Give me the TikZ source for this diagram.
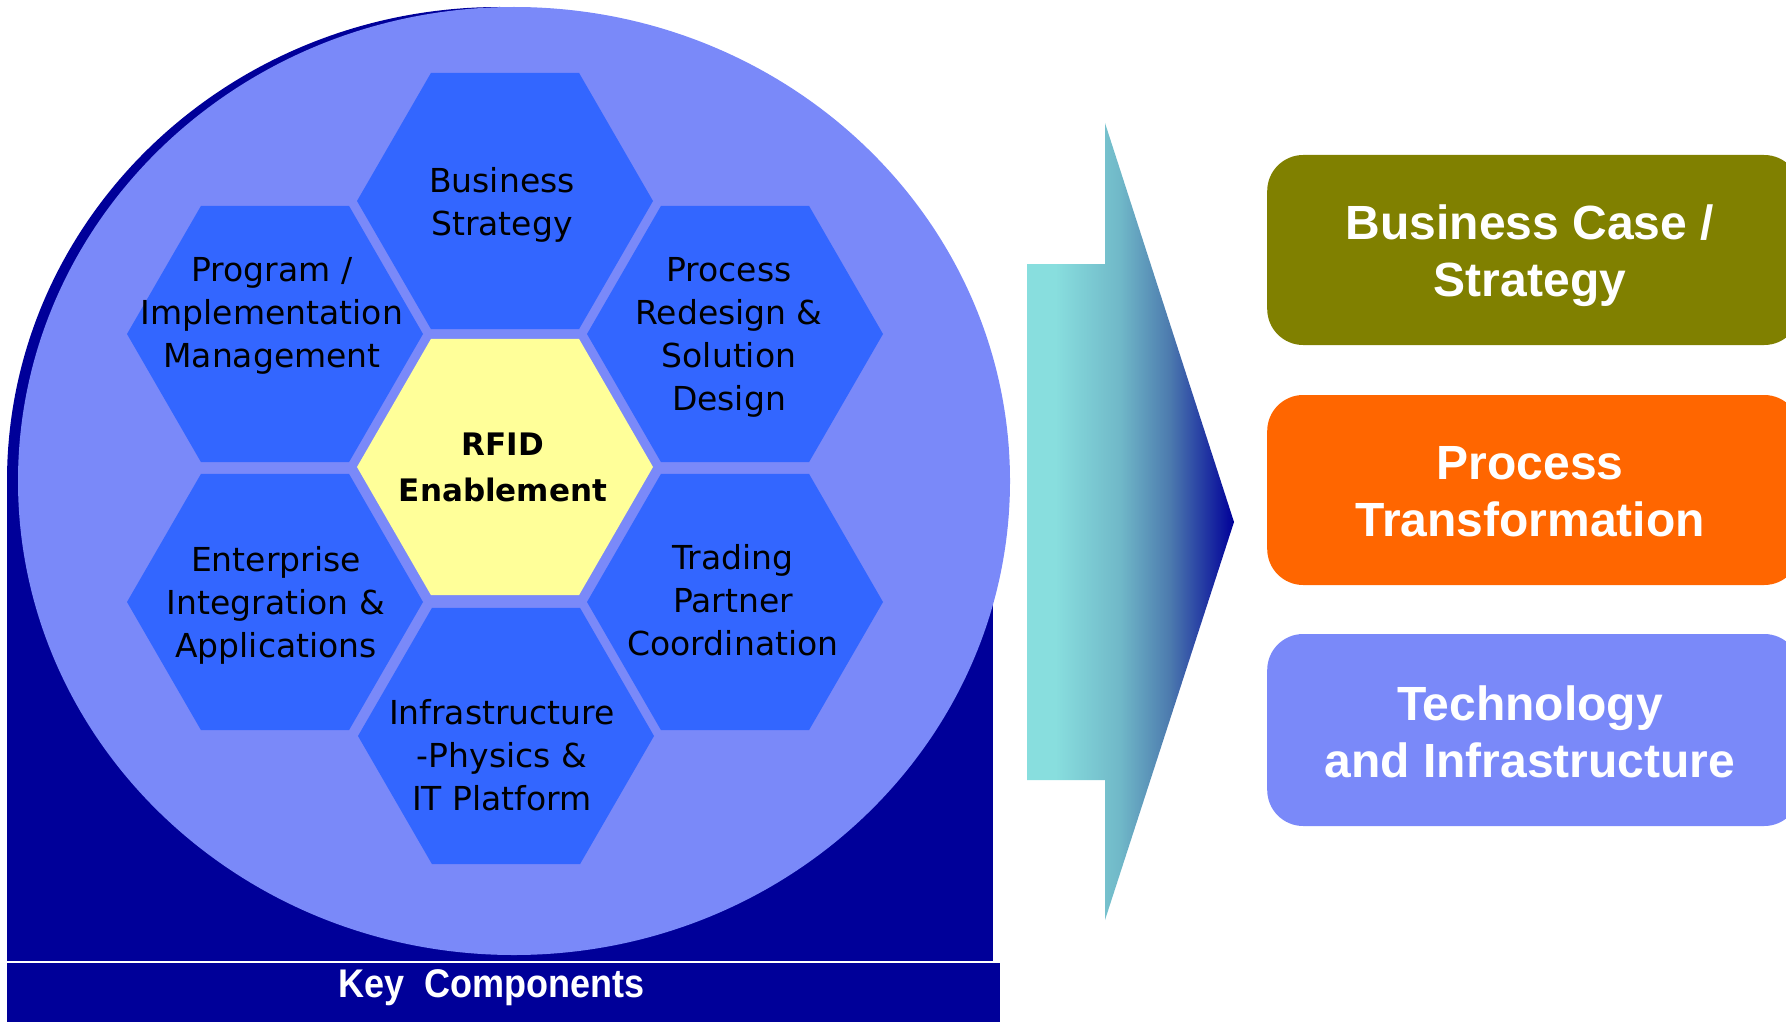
\documentclass[tikz,border=0pt]{standalone}
\usepackage{fontspec}
\setmainfont{DejaVu Sans}
\newfontfamily\arialfont{Liberation Sans}
\newfontfamily\narrowfont[FakeStretch=0.9]{Liberation Sans}
\usetikzlibrary{shapes.geometric}

\definecolor{kcnavy}{RGB}{0,0,153}
\definecolor{kclight}{RGB}{122,137,249}
\definecolor{kchex}{RGB}{51,102,255}
\definecolor{kcyellow}{RGB}{255,255,153}
\definecolor{kcolive}{RGB}{128,128,0}
\definecolor{kcorange}{RGB}{255,102,0}
\definecolor{kccyan}{RGB}{136,222,222}
\definecolor{kcmida}{RGB}{112,184,200}
\definecolor{kcmidb}{RGB}{76,122,174}

\pgfdeclarehorizontalshading{arrowshade}{100bp}{color(0bp)=(kccyan); color(31.8bp)=(kccyan); color(47.5bp)=(kcmida); color(59.5bp)=(kcmidb); color(75bp)=(kcnavy); color(100bp)=(kcnavy)}

\tikzset{
  hexa/.style={regular polygon, regular polygon sides=6, minimum size=296pt,
    inner sep=0pt, outer sep=0pt, draw=none, fill=kchex},
  hextext/.style={align=center, inner sep=0pt, text=black,
    font=\fontsize{33}{43}\selectfont},
  sidebox/.style={rounded corners=36pt, minimum width=533pt, minimum height=190pt,
    inner sep=0pt, anchor=west, draw=none},
  sidetext/.style={align=center, inner sep=0pt, text=white,
    font=\arialfont\bfseries\fontsize{48}{57}\selectfont},
}

\begin{document}
\begin{tikzpicture}[x=1pt,y=-1pt]
\useasboundingbox (0,0) rectangle (1786,1022);

% dark backing shape
\fill[kcnavy] (499.5,481) ellipse [x radius=492.5, y radius=474];
\fill[kcnavy] (7,481) rectangle (993,961);
% light disc
\fill[kclight] (514,481) ellipse [x radius=496, y radius=474];

% bottom bar
\fill[kcnavy] (7,963) rectangle (1000,1022);
\node[text=white, inner sep=0pt, font=\narrowfont\bfseries\fontsize{40}{46}\selectfont]
  (keycomp) at (492,988) {Key~ Components};

% honeycomb
\node[hexa, fill=kcyellow] (hc) at (505,467) {};
\node[hexa] (ht) at (505,201) {};
\node[hexa] (hul) at (275,334) {};
\node[hexa] (hur) at (735,334) {};
\node[hexa] (hll) at (275,602) {};
\node[hexa] (hlr) at (735,602) {};
\node[hexa] (hb) at (506,736) {};

\node[hextext, font=\bfseries\fontsize{31}{46}\selectfont] (tc) at (503,467) {RFID\\Enablement};
\node[hextext] (tt) at (502,205) {Business\\Strategy};
\node[hextext] (tul) at (272,316) {Program /\\Implementation\\Management};
\node[hextext] (tur) at (729,337) {Process\\Redesign \&\\Solution\\Design};
\node[hextext] (tll) at (276,605) {Enterprise\\Integration \&\\Applications};
\node[hextext] (tlr) at (733,600) {Trading\\Partner\\Coordination};
\node[hextext] (tb) at (502,755) {Infrastructure\\-Physics \&\\IT Platform};

% arrow
\shade[shading=arrowshade] (1027,264) -- (1105,264) -- (1105,123) -- (1234,522)
  -- (1105,920) -- (1105,780) -- (1027,780) -- cycle;

% result boxes
\node[sidebox, fill=kcolive] (b1) at (1267,250) {};
\node[sidebox, fill=kcorange] (b2) at (1267,490) {};
\node[sidebox, fill=kclight, minimum height=192pt] (b3) at (1267,730) {};

\node[sidetext] (t1) at (1530,256) {Business Case /\\Strategy};
\node[sidetext] (t2) at (1530,492) {Process\\Transformation};
\node[sidetext] (t3) at (1530,732) {Technology\\and Infrastructure};
\end{tikzpicture}
\end{document}
